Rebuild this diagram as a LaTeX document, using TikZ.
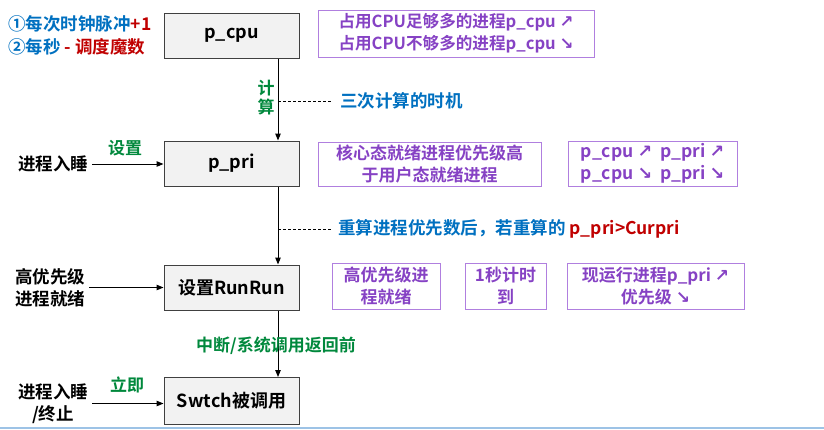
\documentclass[tikz,border=0pt]{standalone}
\usepackage{fontspec}
\setmainfont{Noto Sans CJK SC}[BoldFont=* Bold]
\newfontfamily\arrfont{DejaVu Sans}[BoldFont=* Bold]
\usetikzlibrary{arrows.meta}
\definecolor{boxborder}{HTML}{404040}
\definecolor{boxfill}{HTML}{F2F2F2}
\definecolor{txtblue}{HTML}{0070C0}
\definecolor{txtred}{HTML}{C00000}
\definecolor{txtgreen}{HTML}{00883C}
\definecolor{txtpurple}{HTML}{8642C4}
\definecolor{notepurple}{HTML}{B07FDF}
\definecolor{bottomblue}{HTML}{9DC3E6}
\newcommand{\myup}{{\arrfont\bfseries ↗}}
\newcommand{\mydn}{{\arrfont\bfseries ↘}}
\newcommand{\fsz}[2]{\fontsize{#1}{#2}\selectfont\bfseries}
\begin{document}
\begin{tikzpicture}[x=1pt,y=-1pt,
  mainbox/.style={draw=boxborder, fill=boxfill, line width=1pt, minimum width=135pt, minimum height=45pt, inner sep=0pt, font=\fsz{18}{22}},
  notebox/.style={draw=notepurple, line width=0.9pt, text=txtpurple, align=center, inner sep=0pt, font=\fsz{17}{22}},
  sidelabel/.style={align=center, font=\fsz{17.5}{22}, inner sep=4pt},
  greenlab/.style={text=txtgreen, font=\fsz{17}{19}, align=center, inner sep=0pt},
  bluelab/.style={text=txtblue, font=\fsz{17.5}{22}, anchor=west, inner sep=0pt},
  arr/.style={line width=1pt, -{Triangle[length=7pt,width=5.5pt]}},
  dashline/.style={line width=0.8pt, dash pattern=on 3pt off 2pt}
]
\useasboundingbox (0,0) rectangle (824,429);

% main boxes
\node[mainbox] (cpu) at (231.5,35.5) {p\_cpu};
\node[mainbox] (pri) at (231.5,163.5) {p\_pri};
\node[mainbox] (run) at (231.5,287.5) {设置RunRun};
\node[mainbox, minimum height=47pt] (sw) at (231.5,401) {Swtch被调用};

% vertical arrows
\draw[arr] ([xshift=46.5pt]cpu.south) -- ([xshift=46.5pt]pri.north);
\draw[arr] ([xshift=46.5pt]pri.south) -- ([xshift=46.5pt]run.north);
\draw[arr] ([xshift=46.5pt]run.south) -- ([xshift=46.5pt]sw.north);

% top-left notes
\node[anchor=west, align=left, inner sep=0pt, font=\fsz{17.5}{22.5}] (tl) at (8,35.5)
  {\textcolor{txtblue}{①每次时钟脉冲}\textcolor{txtred}{+1}\\
   \textcolor{txtblue}{②每秒 }\textcolor{txtred}{- 调度魔数}};

% top purple box
\node[notebox, align=left, minimum width=276pt, minimum height=47pt, font=\fsz{16.6}{22}] (ntop) at (456,33.5)
  {占用CPU足够多的进程p\_cpu \myup\\占用CPU不够多的进程p\_cpu \mydn};

% calc label and dashed line
\node[greenlab] (calc) at (266,98) {计\\算};
\coordinate (d1) at (278,101);
\node[bluelab] (t1) at (340,101) {三次计算的时机};
\draw[dashline] (d1) -- ([xshift=-8pt]t1.west);

% p_pri row
\node[sidelabel] (sleep1) at (53,164) {进程入睡};
\draw[arr] (sleep1.east) -- (sleep1.east -| pri.west);
\node[greenlab] (set) at (125,148) {设置};
\node[notebox, minimum width=223pt, minimum height=44pt] (n1) at (429.5,164)
  {核心态就绪进程优先级高\\于用户态就绪进程};
\node[notebox, minimum width=169pt, minimum height=45pt, font=\fsz{17.5}{22}] (n2) at (652.5,163.5)
  {p\_cpu \myup\ \ p\_pri \myup\\p\_cpu \mydn\ \ p\_pri \mydn};

% second dashed line
\coordinate (d2) at (278,229);
\node[bluelab] (t2) at (338,229) {重算进程优先数后，若重算的 \textcolor{txtred}{p\_pri>Curpri}};
\draw[dashline] (d2) -- ([xshift=-6pt]t2.west);

% RunRun row
\node[sidelabel] (high) at (50,287.5) {高优先级\\进程就绪};
\draw[arr] (high.east) -- (high.east -| run.west);
\node[notebox, minimum width=108pt, minimum height=46pt] (n3) at (386,286) {高优先级进\\程就绪};
\node[notebox, minimum width=81pt, minimum height=46pt] (n4) at (505.5,286) {1秒计时\\到};
\node[notebox, minimum width=177pt, minimum height=46pt] (n5) at (655.5,286) {现运行进程p\_pri \myup\\优先级 \mydn};

% interrupt label
\node[greenlab] (intr) at (276,346) {中断/系统调用返回前};

% Swtch row
\node[sidelabel] (sleep2) at (53,403.5) {进程入睡\\/终止};
\draw[arr] (sleep2.east) -- (sleep2.east -| sw.west);
\node[greenlab] (now) at (127,385) {立即};

% bottom border line
\draw[bottomblue, line width=2pt] (0,428) -- (824,428);
\end{tikzpicture}
\end{document}
